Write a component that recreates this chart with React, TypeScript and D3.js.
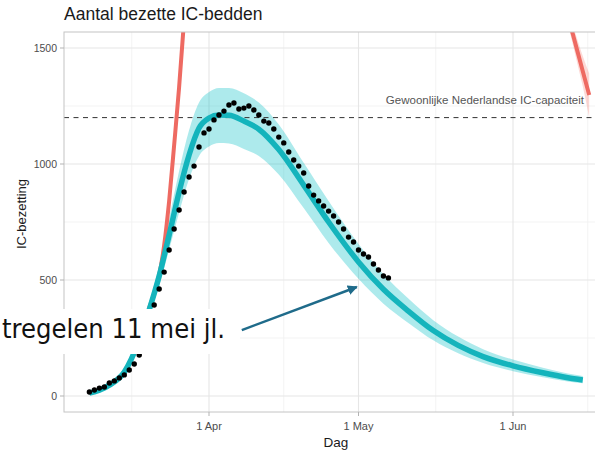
import React from "react";
import * as d3 from "d3";

// ---------- data ----------
const yTicks = [0, 500, 1000, 1500];
const yMinorTicks = [250, 750, 1250];
const xTicks = ["2020-04-01", "2020-05-01", "2020-06-01"];
const xMinorTicks = ["2020-03-16T12:00:00Z", "2020-04-16T00:00:00Z", "2020-05-16T12:00:00Z", "2020-06-16T00:00:00Z"];

const capacity = 1200;
const capacityLabel = "Gewoonlijke Nederlandse IC-capaciteit";

const modelDates = [
  "2020-03-08", "2020-03-10", "2020-03-12", "2020-03-15", "2020-03-18", "2020-03-20",
  "2020-03-22", "2020-03-24", "2020-03-26", "2020-03-28", "2020-03-30", "2020-04-01",
  "2020-04-03", "2020-04-05", "2020-04-08", "2020-04-11", "2020-04-15", "2020-04-20",
  "2020-04-25", "2020-05-01", "2020-05-06", "2020-05-11", "2020-05-16", "2020-05-21",
  "2020-05-26", "2020-06-01", "2020-06-07", "2020-06-12", "2020-06-15",
];
const modelMid = [13, 25, 47, 103, 241, 371, 517, 694, 879, 1039, 1155, 1198, 1211, 1210, 1185, 1150, 1062, 909, 750, 578, 460, 366, 282, 218, 170, 130, 100, 79, 69];
const modelLo = [10, 21, 41, 93, 220, 345, 475, 630, 790, 935, 1035, 1075, 1090, 1088, 1065, 1035, 955, 810, 660, 505, 398, 315, 240, 184, 142, 107, 81, 63, 55];
const modelHi = [16, 30, 54, 114, 265, 400, 565, 765, 970, 1145, 1265, 1310, 1328, 1328, 1305, 1265, 1170, 1005, 840, 655, 525, 420, 327, 256, 202, 157, 122, 97, 86];

const redDates = ["2020-03-20", "2020-03-21", "2020-03-22", "2020-03-23", "2020-03-24", "2020-03-25", "2020-03-26", "2020-03-27", "2020-03-28"];
const redValues = [380, 440, 520, 650, 840, 1080, 1330, 1620, 1950];

const red2Dates = ["2020-06-11T00:00:00Z", "2020-06-12T00:00:00Z", "2020-06-13T00:00:00Z", "2020-06-14T00:00:00Z", "2020-06-15T00:00:00Z", "2020-06-16T07:00:00Z"];
const red2Values = [1720, 1640, 1560, 1480, 1400, 1297];
const red2Lo = [1690, 1605, 1515, 1425, 1335, 1200];
const red2Hi = [1750, 1675, 1600, 1530, 1465, 1390];

const obsStart = "2020-03-08";
const obsValues = [
  17, 26, 34, 39, 56, 65, 78, 91, 112, 138, 177, 241, 319, 392, 461, 534, 629, 720, 802, 879,
  944, 991, 1073, 1134, 1151, 1190, 1211, 1228, 1254, 1263, 1237, 1241, 1250, 1233, 1211, 1185,
  1177, 1151, 1116, 1091, 1052, 1017, 991, 961, 905, 866, 841, 819, 797, 776, 750, 720, 685,
  664, 629, 612, 599, 569, 543, 517, 509,
];

const annotationText = "tregelen 11 mei jl.";
const arrowFrom = { date: "2020-04-07T14:00:00Z", value: 284 };
const arrowTo = { date: "2020-04-30T16:00:00Z", value: 470 };

// ---------- component ----------
export default function App() {
  const W = 595;
  const H = 453;
  const panel = { left: 64, right: 614, top: 32, bottom: 412 };

  const x = d3.scaleUtc().domain([new Date("2020-04-01"), new Date("2020-06-01")]).range([209, 513]);
  const y = d3.scaleLinear().domain([0, 1500]).range([396, 48]);

  const model = modelDates.map((d, i) => ({ d: new Date(d), m: modelMid[i], lo: modelLo[i], hi: modelHi[i] }));
  const red = redDates.map((d, i) => ({ d: new Date(d), v: redValues[i] }));
  const red2 = red2Dates.map((d, i) => ({ d: new Date(d), v: red2Values[i], lo: red2Lo[i], hi: red2Hi[i] }));
  const obs = obsValues.map((v, i) => ({ d: d3.utcDay.offset(new Date(obsStart), i), v }));

  const band = d3.area<any>().x((p) => x(p.d)).y0((p) => y(p.lo)).y1((p) => y(p.hi)).curve(d3.curveMonotoneX);
  const line = d3.line<any>().x((p) => x(p.d)).y((p) => y(p.m)).curve(d3.curveMonotoneX);
  const lineV = d3.line<any>().x((p) => x(p.d)).y((p) => y(p.v)).curve(d3.curveMonotoneX);

  const fmt = d3.utcFormat("%-d %b");
  const font = "'Liberation Sans', Arial, Helvetica, sans-serif";

  const ax0 = x(new Date(arrowFrom.date));
  const ay0 = y(arrowFrom.value);
  const ax1 = x(new Date(arrowTo.date));
  const ay1 = y(arrowTo.value);

  return (
    <svg width={W} height={H} style={{ position: "absolute", left: 0, top: 0, background: "#fff" }} fontFamily={font}>
      <defs>
        <clipPath id="panel">
          <rect x={panel.left} y={panel.top} width={panel.right - panel.left} height={panel.bottom - panel.top} />
        </clipPath>
        <marker id="arrowhead" viewBox="0 0 10 10" refX="9" refY="5" markerWidth="4" markerHeight="4" orient="auto">
          <path d="M0,0 L10,5 L0,10 z" fill="#1f6b8a" />
        </marker>
      </defs>

      {/* title */}
      <text x={64} y={20} fontSize={17.5} fill="#1a1a1a">Aantal bezette IC-bedden</text>

      {/* grid */}
      <g>
        {yMinorTicks.map((t) => (
          <line key={"ym" + t} x1={panel.left} x2={panel.right} y1={y(t)} y2={y(t)} stroke="#f0f0f0" strokeWidth={0.8} />
        ))}
        {xMinorTicks.map((t) => (
          <line key={"xm" + t} x1={x(new Date(t))} x2={x(new Date(t))} y1={panel.top} y2={panel.bottom} stroke="#f0f0f0" strokeWidth={0.8} />
        ))}
        {yTicks.map((t) => (
          <line key={"y" + t} x1={panel.left} x2={panel.right} y1={y(t)} y2={y(t)} stroke="#e6e6e6" strokeWidth={1.1} />
        ))}
        {xTicks.map((t) => (
          <line key={"x" + t} x1={x(new Date(t))} x2={x(new Date(t))} y1={panel.top} y2={panel.bottom} stroke="#e6e6e6" strokeWidth={1.1} />
        ))}
      </g>

      <g clipPath="url(#panel)">
        <path d={band(model) || ""} fill="#00BFC4" fillOpacity={0.32} />
        <path d={band(red2) || ""} fill="#F8766D" fillOpacity={0.28} />
        <line x1={panel.left} x2={panel.right} y1={y(capacity)} y2={y(capacity)} stroke="#333" strokeWidth={1} strokeDasharray="5,4.5" />
        <path d={lineV(red) || ""} fill="none" stroke="#EE6A62" strokeWidth={4} />
        <path d={lineV(red2) || ""} fill="none" stroke="#EE6A62" strokeWidth={4} />
        <path d={line(model) || ""} fill="none" stroke="#14B4BC" strokeWidth={5.5} />
        {obs.map((p, i) => (
          <circle key={i} cx={x(p.d)} cy={y(p.v)} r={2.7} fill="#000" />
        ))}
      </g>

      <text x={584} y={y(capacity) - 14} fontSize={11.5} fill="#555" textAnchor="end">{capacityLabel}</text>

      {/* panel border */}
      <rect x={panel.left} y={panel.top} width={panel.right - panel.left} height={panel.bottom - panel.top} fill="none" stroke="#c4c4c4" strokeWidth={1} />

      {/* axes ticks + labels */}
      {yTicks.map((t) => (
        <g key={"yl" + t}>
          <line x1={panel.left - 4} x2={panel.left} y1={y(t)} y2={y(t)} stroke="#b3b3b3" strokeWidth={1} />
          <text x={panel.left - 7} y={y(t)} dy="0.35em" fontSize={10.5} fill="#4d4d4d" textAnchor="end">{t}</text>
        </g>
      ))}
      {xTicks.map((t) => (
        <g key={"xl" + t}>
          <line x1={x(new Date(t))} x2={x(new Date(t))} y1={panel.bottom} y2={panel.bottom + 4} stroke="#b3b3b3" strokeWidth={1} />
          <text x={x(new Date(t))} y={430} fontSize={11} fill="#4d4d4d" textAnchor="middle">{fmt(new Date(t))}</text>
        </g>
      ))}
      <text x={336} y={447} fontSize={13.5} fill="#1a1a1a" textAnchor="middle">Dag</text>
      <text transform={`translate(26,214) rotate(-90)`} fontSize={13} fill="#1a1a1a" textAnchor="middle">IC-bezetting</text>

      {/* overlay annotation */}
      <rect x={0} y={309} width={240} height={45} fill="#fff" />
      <text x={2} y={338} fontSize={26} fill="#111" fontFamily="'DejaVu Sans', Verdana, sans-serif" textLength={223} lengthAdjust="spacingAndGlyphs">{annotationText}</text>
      <line x1={ax0} y1={ay0} x2={ax1} y2={ay1} stroke="#1f6b8a" strokeWidth={2.5} markerEnd="url(#arrowhead)" />
    </svg>
  );
}
